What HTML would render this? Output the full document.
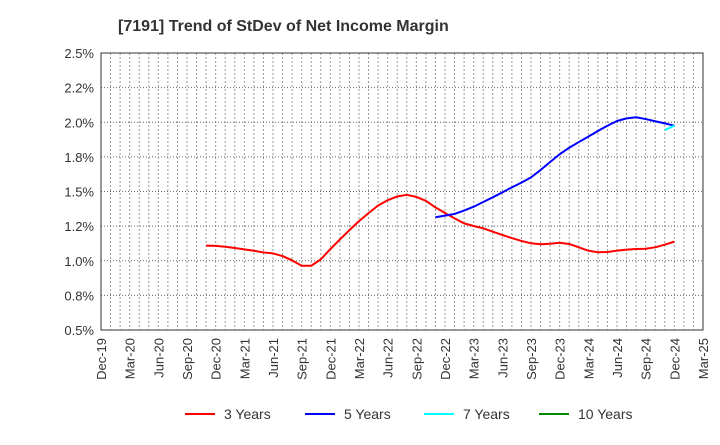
<!DOCTYPE html>
<html><head><meta charset="utf-8"><style>
body{margin:0;background:#fff;font-family:"Liberation Sans",sans-serif}
svg text{font-family:"Liberation Sans",sans-serif}
</style></head><body>
<svg id="chart" width="720" height="440" xmlns="http://www.w3.org/2000/svg">
<text x="118" y="31" font-size="16" font-weight="bold" fill="#333">[7191]  Trend of StDev of Net Income Margin</text>
<g id="grid"></g><g id="axes"></g><g id="series"></g>
<g font-size="14" fill="#333">
<line x1="185" y1="414" x2="215" y2="414" stroke="#f00" stroke-width="2"/><text x="224" y="419">3 Years</text>
<line x1="305" y1="414" x2="335" y2="414" stroke="#00f" stroke-width="2"/><text x="344" y="419">5 Years</text>
<line x1="424" y1="414" x2="454" y2="414" stroke="#0ff" stroke-width="2"/><text x="463" y="419">7 Years</text>
<line x1="539" y1="414" x2="569" y2="414" stroke="#080" stroke-width="2"/><text x="578" y="419">10 Years</text>
</g>
</svg>
<script>
const xLabels=["Dec-19","Mar-20","Jun-20","Sep-20","Dec-20","Mar-21","Jun-21","Sep-21","Dec-21","Mar-22","Jun-22","Sep-22","Dec-22","Mar-23","Jun-23","Sep-23","Dec-23","Mar-24","Jun-24","Sep-24","Dec-24","Mar-25"];
const yTicks=[0.5,0.75,1.0,1.25,1.5,1.75,2.0,2.25,2.5];
const yLabels=["0.5%","0.8%","1.0%","1.2%","1.5%","1.8%","2.0%","2.2%","2.5%"];
const start3=11;
const s3=[1.109,1.107,1.101,1.092,1.082,1.072,1.060,1.053,1.034,1.003,0.964,0.964,1.010,1.084,1.154,1.221,1.286,1.344,1.399,1.437,1.464,1.476,1.461,1.433,1.385,1.345,1.306,1.270,1.251,1.234,1.210,1.186,1.164,1.143,1.126,1.119,1.123,1.130,1.121,1.097,1.073,1.061,1.063,1.073,1.080,1.085,1.087,1.097,1.116,1.138];
const start5=35;
const s5=[1.314,1.326,1.338,1.362,1.390,1.424,1.458,1.494,1.530,1.564,1.602,1.655,1.713,1.769,1.816,1.857,1.896,1.937,1.975,2.009,2.028,2.036,2.023,2.007,1.992,1.975];
const start7=59;
const s7=[1.944,1.975];
const L=101,R=703,T=53,B=330,months=63;
const xs=i=>L+i*(R-L)/months;
const ys=v=>B-(v-0.5)/2*(B-T);
const NS="http://www.w3.org/2000/svg";
function mk(tag,attrs,parent){const e=document.createElementNS(NS,tag);for(const k in attrs)e.setAttribute(k,attrs[k]);parent.appendChild(e);return e;}
const grid=document.getElementById('grid'),axes=document.getElementById('axes'),series=document.getElementById('series');
for(let i=1;i<months;i++){const l=mk('line',{x1:xs(i),x2:xs(i),y1:T,y2:B,stroke:'#999','stroke-dasharray':'2,2','stroke-width':1},grid);

}
yTicks.forEach((v,i)=>{if(i>0&&i<yTicks.length-1){const l=mk('line',{x1:L,x2:R,y1:ys(v),y2:ys(v),stroke:'#666','stroke-dasharray':'1,2','stroke-width':1},grid);

}
const t=mk('text',{x:L-7,y:ys(v)+5,'text-anchor':'end','font-size':13,fill:'#333'},axes);t.textContent=yLabels[i];

});
xLabels.forEach((s,i)=>{const x=xs(i*3);const t=mk('text',{transform:`translate(${x+5},${B+8}) rotate(-90)`,'text-anchor':'end','font-size':13,fill:'#333'},axes);t.textContent=s;

});
const frame=mk('rect',{x:L,y:T,width:R-L,height:B-T,fill:'none',stroke:'#333','stroke-width':1},axes);


function line(arr,st,color,name){const p=mk('polyline',{points:arr.map((v,i)=>xs(st+i)+','+ys(v)).join(' '),fill:'none',stroke:color,'stroke-width':2,'stroke-linejoin':'round'},series);

}
line(s3,start3,'#f00','series-3-years');
line(s5,start5,'#00f','series-5-years');
line(s7,start7,'#0ff','series-7-years');
</script>
</body></html>
